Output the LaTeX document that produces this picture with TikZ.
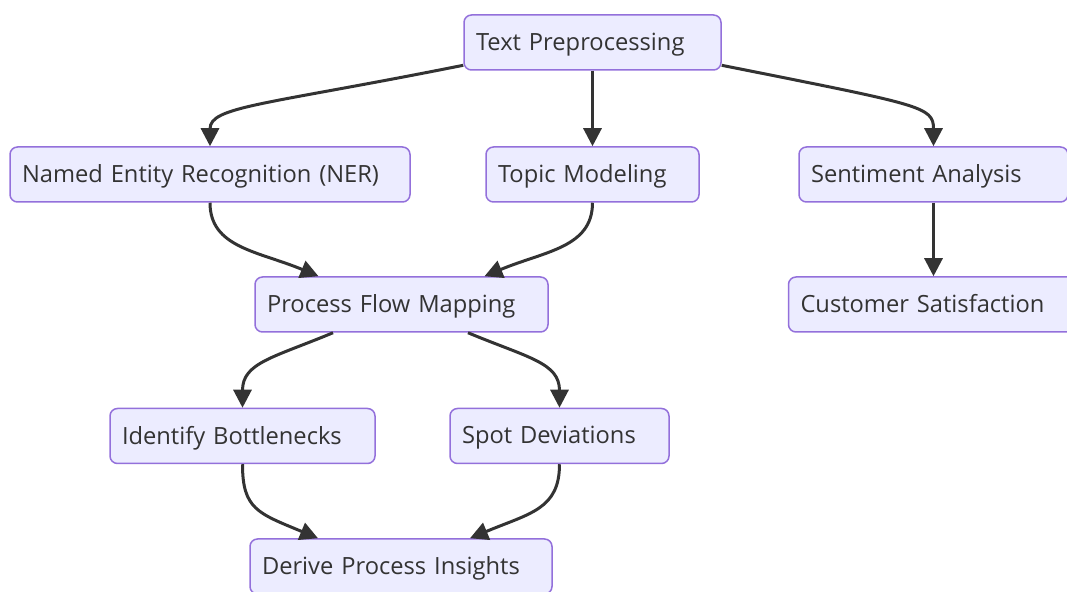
\documentclass[tikz,border=0pt]{standalone}
\usepackage{fontspec}
\setmainfont{Open Sans}
\usepackage{tikz}
\usetikzlibrary{arrows.meta}
\definecolor{boxfill}{HTML}{ECECFF}
\definecolor{boxline}{HTML}{9370DB}
\definecolor{ink}{HTML}{333333}

\begin{document}
\begin{tikzpicture}[x=0.5pt,y=-0.5pt,
  box/.style={draw=boxline,fill=boxfill,line width=0.75pt,rounded corners=3.75pt,text=ink,
    font=\fontsize{11.85}{14}\selectfont,align=left,inner xsep=6pt,minimum height=27.5pt,
    text depth=0.8pt,text width=#1},
  flow/.style={draw=ink,line width=1.5pt,-{Triangle[length=9pt,width=9pt]}}]
\clip (0,0) rectangle (1067,592);
% nodes
\node[box=116.5pt] (prep)   at (592.5,42.5)  {Text Preprocessing};
\node[box=188pt]   (ner)    at (210,174.5)   {Named Entity Recognition (NER)};
\node[box=94.5pt]  (topic)  at (592.5,174.5) {Topic Modeling};
\node[box=122.5pt] (senti)  at (933.5,174.5) {Sentiment Analysis};
\node[box=133pt]   (cust)   at (933.5,304.5) {Customer Satisfaction};
\node[box=134.5pt] (pfm)    at (401.5,304.5) {Process Flow Mapping};
\node[box=120.5pt] (bottle) at (242.5,436)   {Identify Bottlenecks};
\node[box=97.5pt]  (spot)   at (559.5,436)   {Spot Deviations};
\node[box=139pt]   (derive) at (401,566.5)   {Derive Process Insights};
% edges
\draw[flow] (prep.190) .. controls +(-200,40) and +(0,-40) .. (ner.north);
\draw[flow] (prep.south) -- (topic.north);
\draw[flow] (prep.350) .. controls +(200,40) and +(0,-40) .. (senti.north);
\draw[flow] (senti.south) -- (cust.north);
\draw[flow] (ner.south) .. controls +(0,45) and +(-60,-25) .. ([xshift=-41.5pt]pfm.north);
\draw[flow] (topic.south) .. controls +(0,45) and +(60,-25) .. ([xshift=41.5pt]pfm.north);
\draw[flow] ([xshift=-34.25pt]pfm.south) .. controls +(-60,25) and +(0,-45) .. (bottle.north);
\draw[flow] ([xshift=33.25pt]pfm.south) .. controls +(60,25) and +(0,-45) .. (spot.north);
\draw[flow] (bottle.south) .. controls +(0,45) and +(-60,-25) .. ([xshift=-41.5pt]derive.north);
\draw[flow] (spot.south) .. controls +(0,45) and +(60,-25) .. ([xshift=34.5pt]derive.north);
\end{tikzpicture}
\end{document}
